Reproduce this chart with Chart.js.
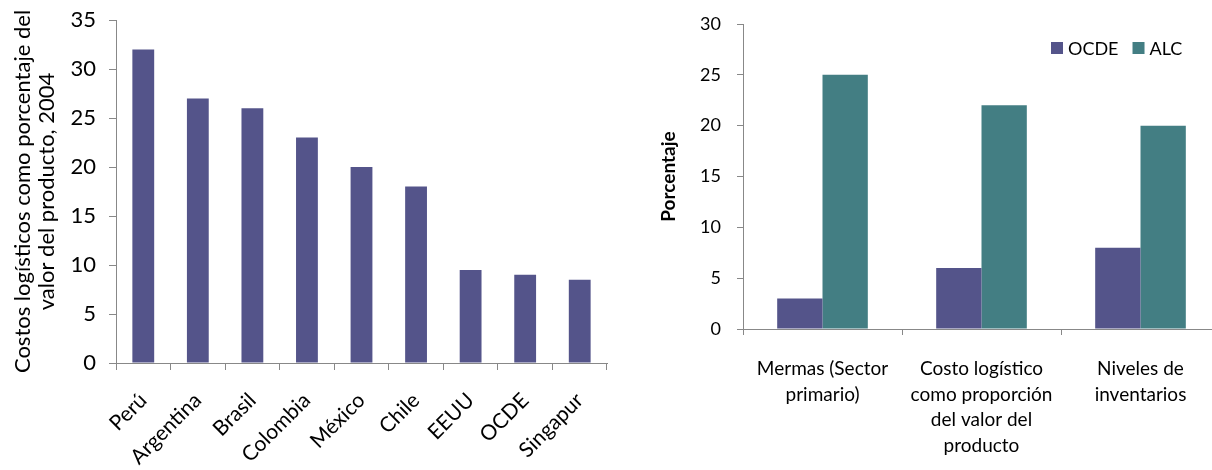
<!DOCTYPE html>
<html lang="es">
<head>
  <meta charset="UTF-8">
  <title>Costos logísticos</title>
  <script src="https://cdn.jsdelivr.net/npm/chart.js"></script>
  <style>
    html, body {
      margin: 0;
      padding: 0;
      background: #ffffff;
      overflow: hidden;
      width: 1212px;
      height: 470px;
    }
    .box {
      position: absolute;
      top: 0;
      height: 470px;
    }
    #leftBox { left: 0; width: 620px; }
    #rightBox { left: 640px; width: 590px; }
  </style>
</head>
<body>

  <div class="box" id="leftBox"><canvas id="paisesChart"></canvas></div>
  <div class="box" id="rightBox"><canvas id="ocdeChart"></canvas></div>

  <script>
    // datos del grafico izquierdo
    const paises = ["Perú", "Argentina", "Brasil", "Colombia", "México", "Chile", "EEUU", "OCDE", "Singapur"];
    const costos = [32, 27, 26, 23, 20, 18, 9.5, 9, 8.5];

    // datos del grafico derecho
    const indicadores = [
      ["Mermas (Sector", "primario)"],
      ["Costo logístico", "como proporción", "del valor del", "producto"],
      ["Niveles de", "inventarios"]
    ];
    const ocde = [3, 6, 8];
    const alc = [25, 22, 20];

    const morado = "#54548A";
    const verde = "#437E83";
    const gris = "#888888";
    const fuente = "Lato, 'Open Sans', sans-serif";

    Chart.defaults.font.family = fuente;
    Chart.defaults.color = "#000000";
    Chart.defaults.animation = false;

    // ancho fijo del eje y, sin relleno extra arriba/abajo
    const fijarEjeY = (ancho) => (s) => {
      s.width = ancho;
      s.paddingTop = 0;
      s.paddingBottom = 0;
    };

    // grafico izquierdo
    new Chart(document.getElementById("paisesChart"), {
      type: "bar",
      data: {
        labels: paises,
        datasets: [{
          label: "Costos",
          data: costos,
          backgroundColor: morado,
          categoryPercentage: 1,
          barPercentage: 0.4
        }]
      },
      options: {
        responsive: true,
        maintainAspectRatio: false,
        layout: { padding: { left: 0, top: 20, right: 13, bottom: 0 } },
        plugins: { legend: { display: false }, tooltip: { enabled: false } },
        scales: {
          x: {
            grid: { drawOnChartArea: false, drawTicks: true, tickLength: 7, color: gris },
            border: { color: gris },
            ticks: { minRotation: 45, maxRotation: 45, padding: 18, font: { size: 21 } },
            afterFit: (s) => { s.height = 107; }
          },
          y: {
            min: 0,
            max: 35,
            ticks: { stepSize: 5, padding: 13, font: { size: 22 } },
            grid: { drawOnChartArea: false, drawTicks: true, tickLength: 7, color: gris },
            border: { color: gris },
            title: {
              display: true,
              text: ["Costos logísticos como porcentaje del", "valor del producto, 2004"],
              font: { size: 22, lineHeight: 1.1 },
              padding: { top: 11, bottom: 0 }
            },
            afterFit: fijarEjeY(116)
          }
        }
      }
    });

    // leyenda dentro del area del grafico
    const leyendaInterna = {
      id: "leyendaInterna",
      afterDraw(chart) {
        const ctx = chart.ctx;
        ctx.save();
        ctx.font = "18px " + fuente;
        ctx.textBaseline = "middle";
        let x = 411;
        const y = 48;
        chart.data.datasets.forEach((ds) => {
          ctx.fillStyle = ds.backgroundColor;
          ctx.fillRect(x, y - 6, 12, 12);
          ctx.fillStyle = "#000";
          ctx.fillText(ds.label, x + 17, y + 1);
          x += 17 + ctx.measureText(ds.label).width + 14;
        });
        ctx.restore();
      }
    };

    // grafico derecho
    new Chart(document.getElementById("ocdeChart"), {
      type: "bar",
      data: {
        labels: indicadores,
        datasets: [
          { label: "OCDE", data: ocde, backgroundColor: morado, categoryPercentage: 0.57, barPercentage: 1 },
          { label: "ALC", data: alc, backgroundColor: verde, categoryPercentage: 0.57, barPercentage: 1 }
        ]
      },
      options: {
        responsive: true,
        maintainAspectRatio: false,
        layout: { padding: { left: 0, top: 24, right: 10, bottom: 0 } },
        plugins: { legend: { display: false }, tooltip: { enabled: false } },
        scales: {
          x: {
            grid: { drawOnChartArea: false, drawTicks: true, tickLength: 6, color: gris },
            border: { color: gris },
            ticks: { maxRotation: 0, padding: 21, font: { size: 19, lineHeight: 1.35 } },
            afterFit: (s) => { s.height = 141; }
          },
          y: {
            min: 0,
            max: 30,
            ticks: { stepSize: 5, padding: 16, font: { size: 18 } },
            grid: { drawOnChartArea: false, drawTicks: true, tickLength: 6, color: gris },
            border: { color: gris },
            title: {
              display: true,
              text: "Porcentaje",
              font: { size: 19, weight: "bold", lineHeight: 1.2 },
              padding: { top: 17, bottom: 0 }
            },
            afterFit: fijarEjeY(103)
          }
        }
      },
      plugins: [leyendaInterna]
    });
  </script>
</body>
</html>
